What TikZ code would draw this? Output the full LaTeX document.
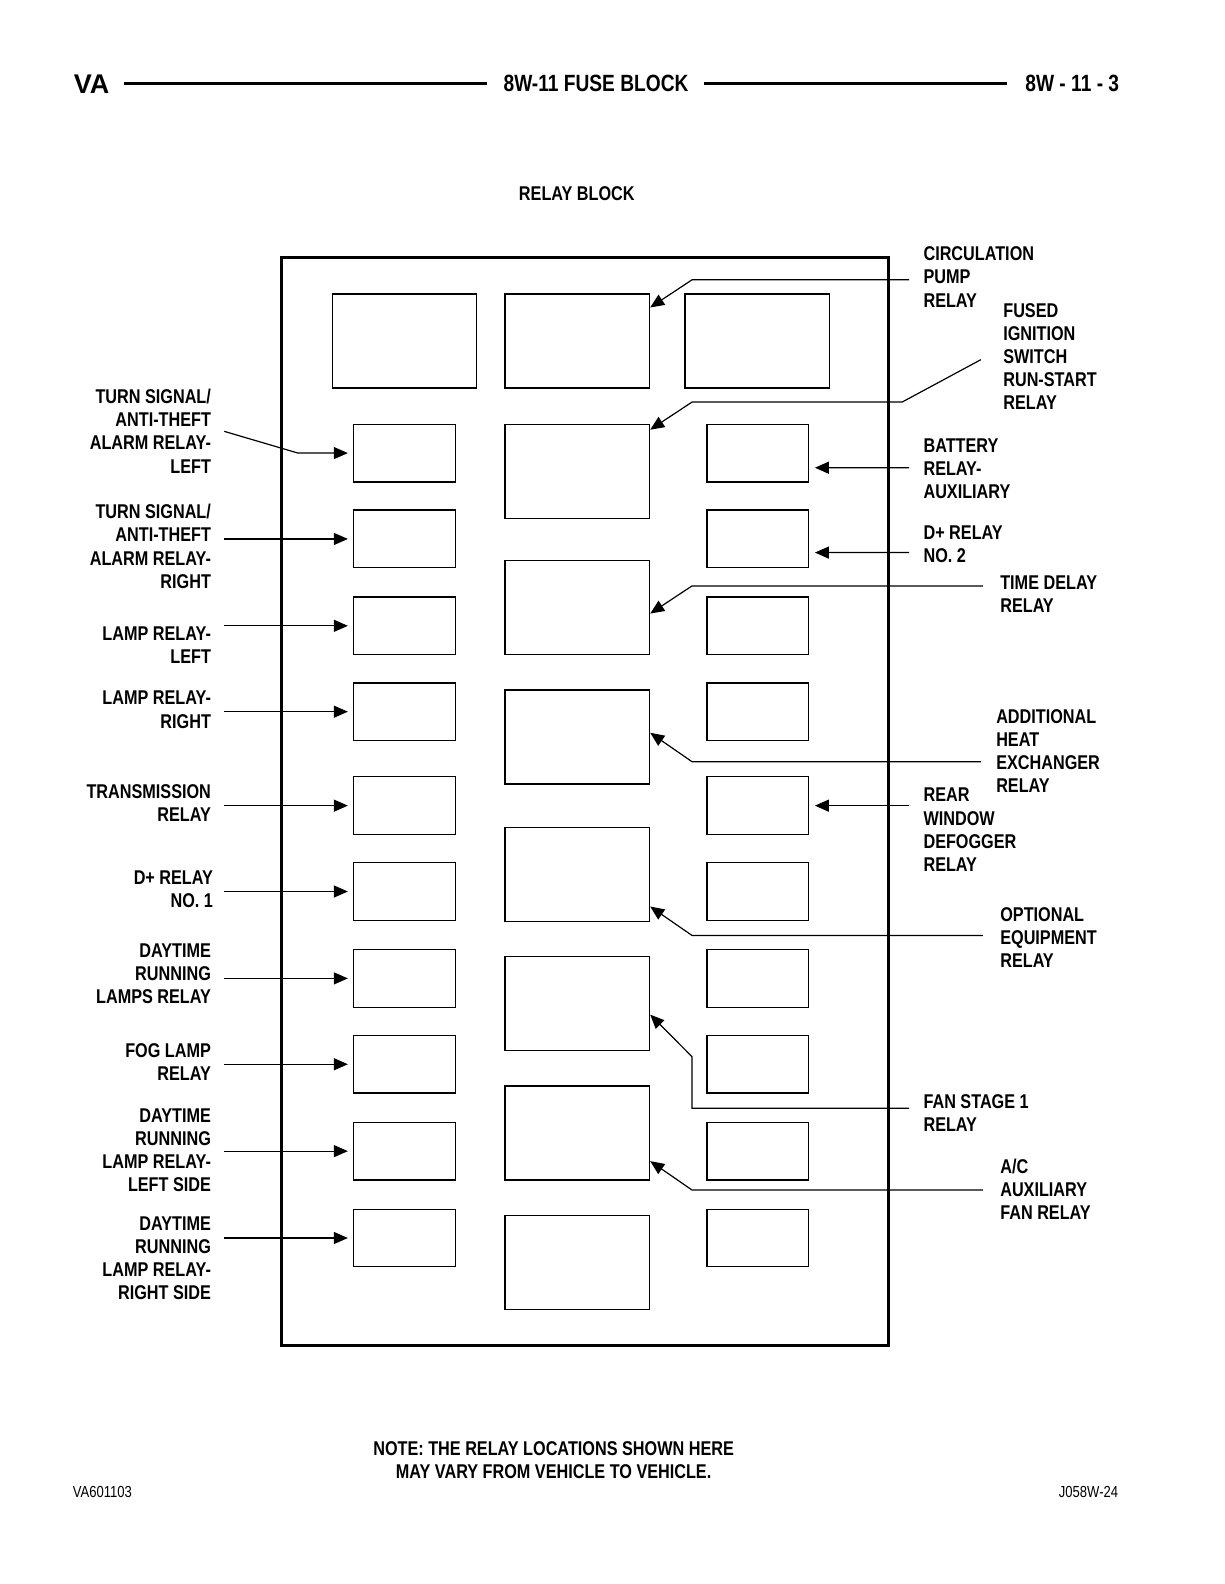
\documentclass[tikz,border=0pt]{standalone}
\usepackage{fontspec}
\setmainfont{Liberation Sans}
\newfontfamily\cond[FakeStretch=0.815]{Liberation Sans}
\usetikzlibrary{arrows.meta,calc}
\begin{document}
\begin{tikzpicture}[x=1.0099pt,y=-1.0099pt,
  lab/.style={inner sep=0pt,font={\cond\bfseries\fontsize{19.9}{23.2}\selectfont}},
  llab/.style={lab,align=right,anchor=north east},
  rlab/.style={lab,align=left,anchor=north west},
  sbox/.style={draw,line width=1.3pt,inner sep=0pt,minimum width=#1,minimum height=57.6pt},
  bbox/.style={draw,line width=1.3pt,inner sep=0pt,minimum width=144.4pt,minimum height=93.9pt},
  arr/.style={line width=1.2pt,-{Triangle[length=14pt,width=12pt]}},
  hline/.style={line width=3pt}]
\useasboundingbox (0,0) rectangle (1212,1568);
\fill[white] (0,0) rectangle (1212,1568);
% header
\node[anchor=west,inner sep=0pt,font={\bfseries\fontsize{27}{30}\selectfont}] (va) at (73,83) {VA};
\node[inner sep=0pt,font={\cond\bfseries\fontsize{23.5}{28}\selectfont}] (title) at (590,83) {8W-11 FUSE BLOCK};
\node[anchor=east,inner sep=0pt,font={\cond\bfseries\fontsize{23.5}{28}\selectfont}] (page) at (1108,83) {8W - 11 - 3};
\draw[hline] (123,83) -- (482,83);
\draw[hline] (697,83) -- (997,83);
\node[lab] (rb) at (571,192) {RELAY BLOCK};
% frame
\node[draw,line width=3pt,minimum width=606pt,minimum height=1087.8pt,inner sep=0pt] (frame) at (579,793.5) {};
% top row
\node[bbox] (T1) at (400.5,337.5) {};
\node[bbox] (T2) at (571.5,337.5) {};
\node[bbox] (T3) at (749.5,337.5) {};
% small boxes
\foreach \t [count=\i] in {420,505,591,676,769,854,940,1025,1111,1197}{
  \node[sbox=102pt] (L\i) at (400.5,\t+28.5) {};
  \node[sbox=101pt] (R\i) at (750,\t+28.5) {};
}
% middle big boxes
\foreach \t [count=\i] in {420,555,683,819,947,1075,1203}{
  \node[bbox] (M\i) at (571.5,\t+46.5) {};
}
% left labels
\node[llab] (tsl) at (209,385) {TURN SIGNAL/\\ANTI-THEFT\\ALARM RELAY-\\LEFT};
\node[llab] (tsr) at (209,499) {TURN SIGNAL/\\ANTI-THEFT\\ALARM RELAY-\\RIGHT};
\node[llab] (lrl) at (209,620) {LAMP RELAY-\\LEFT};
\node[llab] (lrr) at (209,684) {LAMP RELAY-\\RIGHT};
\node[llab] (tr) at (209,776) {TRANSMISSION\\RELAY};
\node[llab] (dp1) at (211,862) {D+ RELAY\\NO. 1};
\node[llab] (drl) at (209,934) {DAYTIME\\RUNNING\\LAMPS RELAY};
\node[llab] (fog) at (209,1033) {FOG LAMP\\RELAY};
\node[llab] (drll) at (209,1097) {DAYTIME\\RUNNING\\LAMP RELAY-\\LEFT SIDE};
\node[llab] (drlr) at (209,1204) {DAYTIME\\RUNNING\\LAMP RELAY-\\RIGHT SIDE};
% right labels
\node[rlab] (circ) at (914,244) {CIRCULATION\\PUMP\\RELAY};
\node[rlab] (fused) at (993,300) {FUSED\\IGNITION\\SWITCH\\RUN-START\\RELAY};
\node[rlab] (batt) at (914,434) {BATTERY\\RELAY-\\AUXILIARY};
\node[rlab] (dp2) at (914,520) {D+ RELAY\\NO. 2};
\node[rlab] (tdr) at (990,570) {TIME DELAY\\RELAY};
\node[rlab] (ahe) at (986,702) {ADDITIONAL\\HEAT\\EXCHANGER\\RELAY};
\node[rlab] (rwd) at (914,780) {REAR\\WINDOW\\DEFOGGER\\RELAY};
\node[rlab] (oer) at (990,898) {OPTIONAL\\EQUIPMENT\\RELAY};
\node[rlab] (fan) at (914,1083) {FAN STAGE 1\\RELAY};
\node[rlab] (ac) at (990,1147) {A/C\\AUXILIARY\\FAN RELAY};
% left connectors
\coordinate (a1) at (222,427);
\draw[arr] (a1) -- (295,448.5) -- ($(L1.west)+(-5,0)$);
\foreach \i/\y in {2/533.5,3/619.5,4/704.5,5/797.5,6/882.5,7/968.5,8/1053.5,9/1139.5,10/1225.5}{
  \coordinate (a\i) at (222,\y);
  \draw[arr] (a\i) -- ($(L\i.west)+(-5,0)$);
}
% right connectors to small boxes
\coordinate (bb) at (900,463);
\draw[arr] (bb) -- ($(R1.east)+(6,14.5)$);
\coordinate (bd) at (900,547);
\draw[arr] (bd) -- ($(R2.east)+(6,13.5)$);
\coordinate (br) at (900,797.5);
\draw[arr] (br) -- ($(R5.east)+(6,0)$);
% right connectors to middle boxes
\coordinate (cc) at (900,277);
\draw[arr] (cc) -- (685,277) -- ($(T2.north east)+(0,14)$);
\coordinate (cf) at (971,356);
\draw[arr] (cf) -- (893,398) -- (685,398) -- ($(M1.north east)+(0,6)$);
\coordinate (ct) at (973,580);
\draw[arr] (ct) -- (685,580) -- ($(M2.north east)+(0,53)$);
\coordinate (ca) at (971,754);
\draw[arr] (ca) -- (685,754) -- ($(M3.north east)+(0,43)$);
\coordinate (co) at (973,926);
\draw[arr] (co) -- (685,926) -- ($(M4.north east)+(0,79)$);
\coordinate (cn) at (900,1097);
\draw[arr] (cn) -- (685,1097) -- (685,1046) -- ($(M5.north east)+(0,58)$);
\coordinate (cx) at (973,1178);
\draw[arr] (cx) -- (685,1178) -- ($(M6.north east)+(0,75)$);
% footer
\node[lab,align=center] (note) at (548,1445) {NOTE: THE RELAY LOCATIONS SHOWN HERE\\MAY VARY FROM VEHICLE TO VEHICLE.};
\node[anchor=west,inner sep=0pt,font={\cond\fontsize{16}{18}\selectfont}] (code1) at (72,1477) {VA601103};
\node[anchor=east,inner sep=0pt,font={\cond\fontsize{16}{18}\selectfont}] (code2) at (1107,1477) {J058W-24};
\end{tikzpicture}
\end{document}
